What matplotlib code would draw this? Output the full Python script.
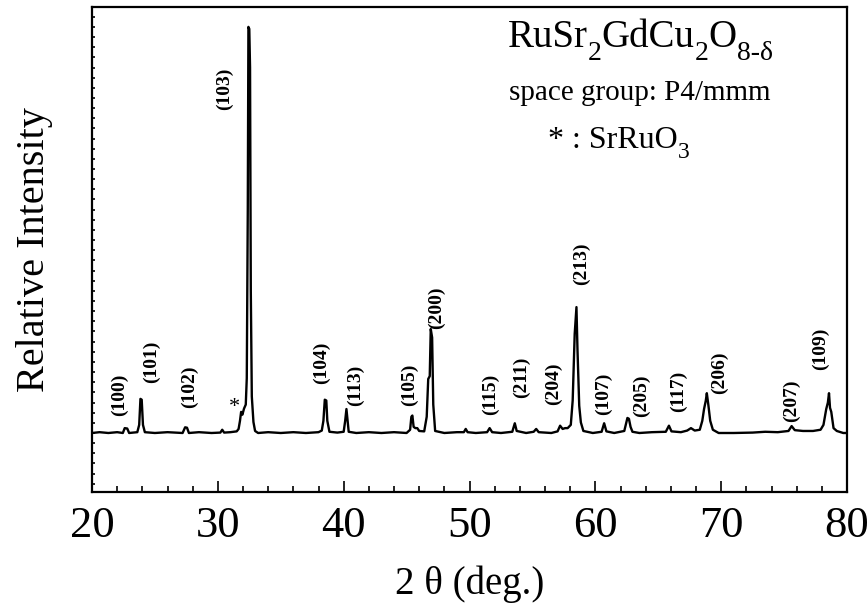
import matplotlib
matplotlib.use("Agg")
import matplotlib.pyplot as plt
from matplotlib.ticker import MultipleLocator, NullLocator

plt.rcParams["font.family"] = ["Liberation Serif", "DejaVu Serif"]

# XRD trace (2 theta in deg, intensity relative to the (103) peak)
two_theta = [20.0, 20.6, 21.3, 22.0, 22.45, 22.6, 22.8, 22.95, 23.6, 23.75, 23.85, 23.95,
             24.05, 24.2, 25.0, 26.0, 27.2, 27.4, 27.55, 27.7, 28.5, 29.5, 30.2, 30.35,
             30.5, 31.0, 31.5, 31.65, 31.76, 31.85, 31.95, 32.08, 32.22, 32.3, 32.38, 32.43,
             32.5, 32.56, 32.62, 32.7, 32.83, 32.96, 33.2, 34.0, 35.0, 36.0, 37.0, 38.0,
             38.26, 38.39, 38.5, 38.62, 38.7, 38.87, 39.5, 40.0, 40.12, 40.22, 40.3, 40.4,
             41.0, 42.0, 43.0, 44.0, 45.0, 45.28, 45.38, 45.46, 45.56, 45.7, 45.85, 46.0,
             46.4, 46.6, 46.72, 46.84, 46.92, 47.03, 47.12, 47.27, 48.0, 49.0, 49.55, 49.7,
             49.85, 50.5, 51.4, 51.6, 51.8, 52.5, 53.4, 53.6, 53.75, 54.5, 55.1, 55.3,
             55.5, 56.5, 57.0, 57.2, 57.4, 57.6, 57.8, 58.05, 58.2, 58.36, 58.5, 58.58,
             58.72, 58.85, 59.05, 59.8, 60.5, 60.7, 60.88, 61.5, 62.3, 62.55, 62.67, 62.8,
             62.95, 63.5, 64.5, 65.6, 65.85, 66.05, 66.8, 67.3, 67.6, 67.9, 68.3, 68.5,
             68.64, 68.78, 68.86, 68.99, 69.13, 69.34, 69.8, 71.0, 72.5, 73.5, 74.5, 75.35,
             75.6, 75.85, 76.5, 77.3, 77.9, 78.13, 78.35, 78.48, 78.57, 78.65, 78.75, 78.93,
             79.19, 79.7, 80.0]
intensity = [0.0, 0.002, 0.0, 0.002, 0.0, 0.012, 0.011, 0.0, 0.002, 0.02, 0.084, 0.082,
             0.02, 0.002, 0.0, 0.002, 0.0, 0.014, 0.013, 0.0, 0.002, 0.0, 0.001, 0.008,
             0.001, 0.002, 0.004, 0.01, 0.03, 0.052, 0.045, 0.06, 0.07, 0.135, 0.55, 1.0,
             0.995, 0.9, 0.35, 0.09, 0.027, 0.005, 0.0, 0.002, 0.0, 0.002, 0.0, 0.002,
             0.006, 0.03, 0.082, 0.08, 0.03, 0.003, 0.001, 0.003, 0.03, 0.059, 0.035, 0.003,
             0.0, 0.002, 0.0, 0.002, 0.0, 0.008, 0.04, 0.043, 0.015, 0.012, 0.012, 0.005,
             0.004, 0.04, 0.133, 0.14, 0.256, 0.235, 0.07, 0.005, 0.0, 0.002, 0.002, 0.01,
             0.002, 0.0, 0.002, 0.012, 0.002, 0.0, 0.003, 0.024, 0.005, 0.0, 0.003, 0.01,
             0.002, 0.0, 0.004, 0.018, 0.01, 0.012, 0.012, 0.02, 0.08, 0.244, 0.31, 0.207,
             0.067, 0.026, 0.005, 0.0, 0.003, 0.024, 0.004, 0.0, 0.005, 0.037, 0.035, 0.015,
             0.003, 0.0, 0.002, 0.003, 0.018, 0.004, 0.002, 0.006, 0.012, 0.006, 0.008, 0.03,
             0.059, 0.08, 0.098, 0.067, 0.03, 0.008, 0.0, 0.0, 0.001, 0.003, 0.002, 0.005,
             0.017, 0.007, 0.005, 0.005, 0.008, 0.02, 0.059, 0.075, 0.098, 0.062, 0.052, 0.012,
             0.005, 0.0, 0.0]

# Miller index labels and where they sit
hkl = ["(100)", "(101)", "(102)", "(103)", "(104)", "(113)", "(105)", "(200)", "(115)",
       "(211)", "(204)", "(213)", "(107)", "(205)", "(117)", "(206)", "(207)", "(109)"]
hkl_x = [22.17, 24.74, 27.73, 30.49, 38.2, 40.9, 45.22, 47.4, 51.69,
         54.1, 56.66, 58.9, 60.64, 63.64, 66.6, 69.86, 75.61, 77.9]
hkl_y = [0.094, 0.175, 0.113, 0.847, 0.172, 0.118, 0.118, 0.309, 0.096,
         0.138, 0.121, 0.416, 0.096, 0.091, 0.103, 0.148, 0.079, 0.207]

impurity_x = 31.31
impurity_y = 0.064

# chemical formulas as (text, is_subscript) pieces
title_parts = [("RuSr", False), ("2", True), ("GdCu", False), ("2", True),
               ("O", False), ("8-δ", True)]
impurity_parts = [("* : SrRuO", False), ("3", True)]


def formula(ax, x, y, parts, size, sub_size, drop):
    main = ax.text(x, y, parts[0][0], transform=ax.transAxes, ha="left",
                   va="baseline", fontsize=size)
    prev = main
    for s, sub in parts[1:]:
        dy = -drop if sub else 0
        fs = sub_size if sub else size
        prev = ax.annotate(s, xy=(1, 0), xycoords=(prev, main), xytext=(0, dy),
                           textcoords="offset points", ha="left", va="bottom",
                           fontsize=fs)
    return main


fig = plt.figure(figsize=(8.68, 6.04), dpi=100)
ax = fig.add_axes([92 / 868, 1 - 492 / 604, 755 / 868, 485 / 604])

ax.plot(two_theta, intensity, color="black", lw=1.7)

for lab, x, y in zip(hkl, hkl_x, hkl_y):
    ax.text(x, y, lab, rotation=90, ha="center", va="center",
            fontsize=14, fontweight="bold")
ax.text(impurity_x, impurity_y, "*", ha="center", va="center", fontsize=16)

formula(ax, (508 - 92) / 755, (492 - 47) / 485, title_parts, 28, 20, 7)
ax.text((640 - 92) / 755, (492 - 100) / 485, "space group: P4/mmm", transform=ax.transAxes,
        ha="center", va="baseline", fontsize=21)
formula(ax, (548 - 92) / 755, (492 - 148) / 485, impurity_parts, 23, 17, 6)

ax.set_xlim(20, 80)
ax.set_ylim(-0.1453, 1.049)
ax.xaxis.set_major_locator(MultipleLocator(10))
ax.xaxis.set_minor_locator(MultipleLocator(2))
ax.yaxis.set_major_locator(NullLocator())
ax.yaxis.set_minor_locator(MultipleLocator(0.025))
ax.tick_params(axis="x", which="major", direction="in", length=8, width=1.2,
               labelsize=32, pad=10)
ax.tick_params(axis="x", which="minor", direction="in", length=4, width=1.2)
ax.tick_params(axis="y", which="minor", direction="in", length=2, width=1.2)
for s in ax.spines.values():
    s.set_linewidth(1.6)

ax.set_xlabel("2 θ (deg.)", fontsize=28, labelpad=14)
ax.set_ylabel("Relative Intensity", fontsize=29, labelpad=25)

fig.savefig("out.png", dpi=100)
